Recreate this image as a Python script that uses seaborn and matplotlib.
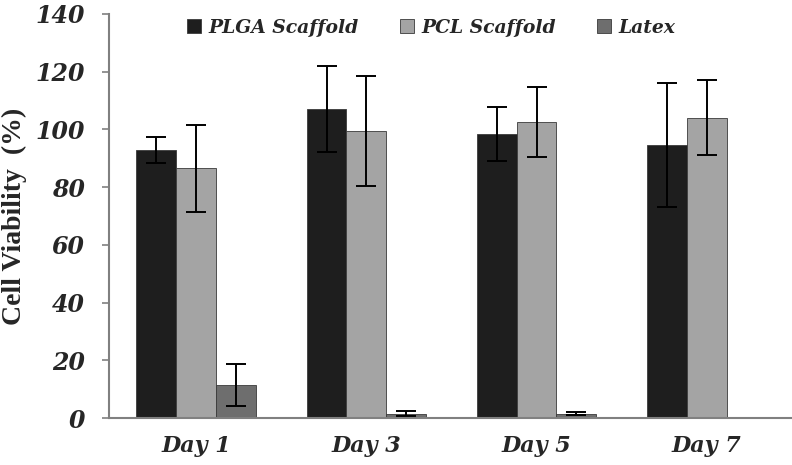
import pandas as pd
import seaborn as sns
import matplotlib.pyplot as plt

days = ["Day 1", "Day 3", "Day 5", "Day 7"]
groups = ["PLGA Scaffold", "PCL Scaffold", "Latex"]
plga = [92.8, 107.0, 98.4, 94.6]
plga_err = [4.5, 15.0, 9.5, 21.5]
pcl = [86.5, 99.5, 102.6, 104.0]
pcl_err = [15.0, 19.0, 12.0, 13.0]
latex = [11.4, 1.5, 1.5, 0.0]
latex_err = [7.4, 0.8, 0.5, 0.0]
colors = ["#1e1e1e", "#a4a4a4", "#6e6e6e"]

df = pd.DataFrame({
    "Day": days * 3,
    "Group": [g for g in groups for _ in days],
    "Value": plga + pcl + latex,
    "Err": plga_err + pcl_err + latex_err,
})

sns.set_style("white")
plt.rcParams["font.family"] = ["DejaVu Serif", "Liberation Serif"]

fig, ax = plt.subplots(figsize=(7.92, 4.65), dpi=100)
fig.subplots_adjust(left=0.137, right=1.0, bottom=0.101, top=0.970)

sns.barplot(data=df, x="Day", y="Value", hue="Group", palette=colors,
            errorbar=None, width=0.70, gap=0.0, ax=ax,
            edgecolor="#3a3a3a", linewidth=0.6)

# error bars at the bar centres seaborn placed
for cont, g in zip(ax.containers, groups):
    sub = df[df["Group"] == g]
    xs = [p.get_x() + p.get_width() / 2 for p in cont]
    errs = list(sub["Err"])
    vals = list(sub["Value"])
    xs2 = [x for x, e in zip(xs, errs) if e > 0]
    v2 = [v for v, e in zip(vals, errs) if e > 0]
    e2 = [e for e in errs if e > 0]
    ax.errorbar(xs2, v2, yerr=e2, fmt="none", ecolor="black",
                elinewidth=1.4, capsize=7, capthick=1.4)

ax.set_ylim(0, 140)
ax.set_xlim(-0.514, 3.50)
ax.set_yticks(range(0, 141, 20))
ax.set_xlabel("")
ax.set_ylabel("Cell Viability  (%)", fontsize=20, fontweight="bold",
              family="Liberation Serif", labelpad=6)
for lab in ax.get_yticklabels():
    lab.set_fontsize(17)
    lab.set_fontstyle("italic")
    lab.set_fontweight("bold")
for lab in ax.get_xticklabels():
    lab.set_fontsize(16)
    lab.set_fontstyle("italic")
    lab.set_fontweight("bold")

sns.despine(ax=ax)
for s in ["left", "bottom"]:
    ax.spines[s].set_color("#808080")
    ax.spines[s].set_linewidth(1.5)
ax.tick_params(axis="y", left=True, length=5, width=1.2, color="#808080", pad=12)
ax.tick_params(axis="x", bottom=False, pad=9)

leg = ax.legend(loc="upper center", bbox_to_anchor=(0.472, 1.03), ncol=3,
                frameon=False, handlelength=0.75, handleheight=0.75,
                handletextpad=0.4, columnspacing=2.2,
                prop={"size": 13.5, "style": "italic", "weight": "bold"})

fig.savefig("out.png", dpi=100)
